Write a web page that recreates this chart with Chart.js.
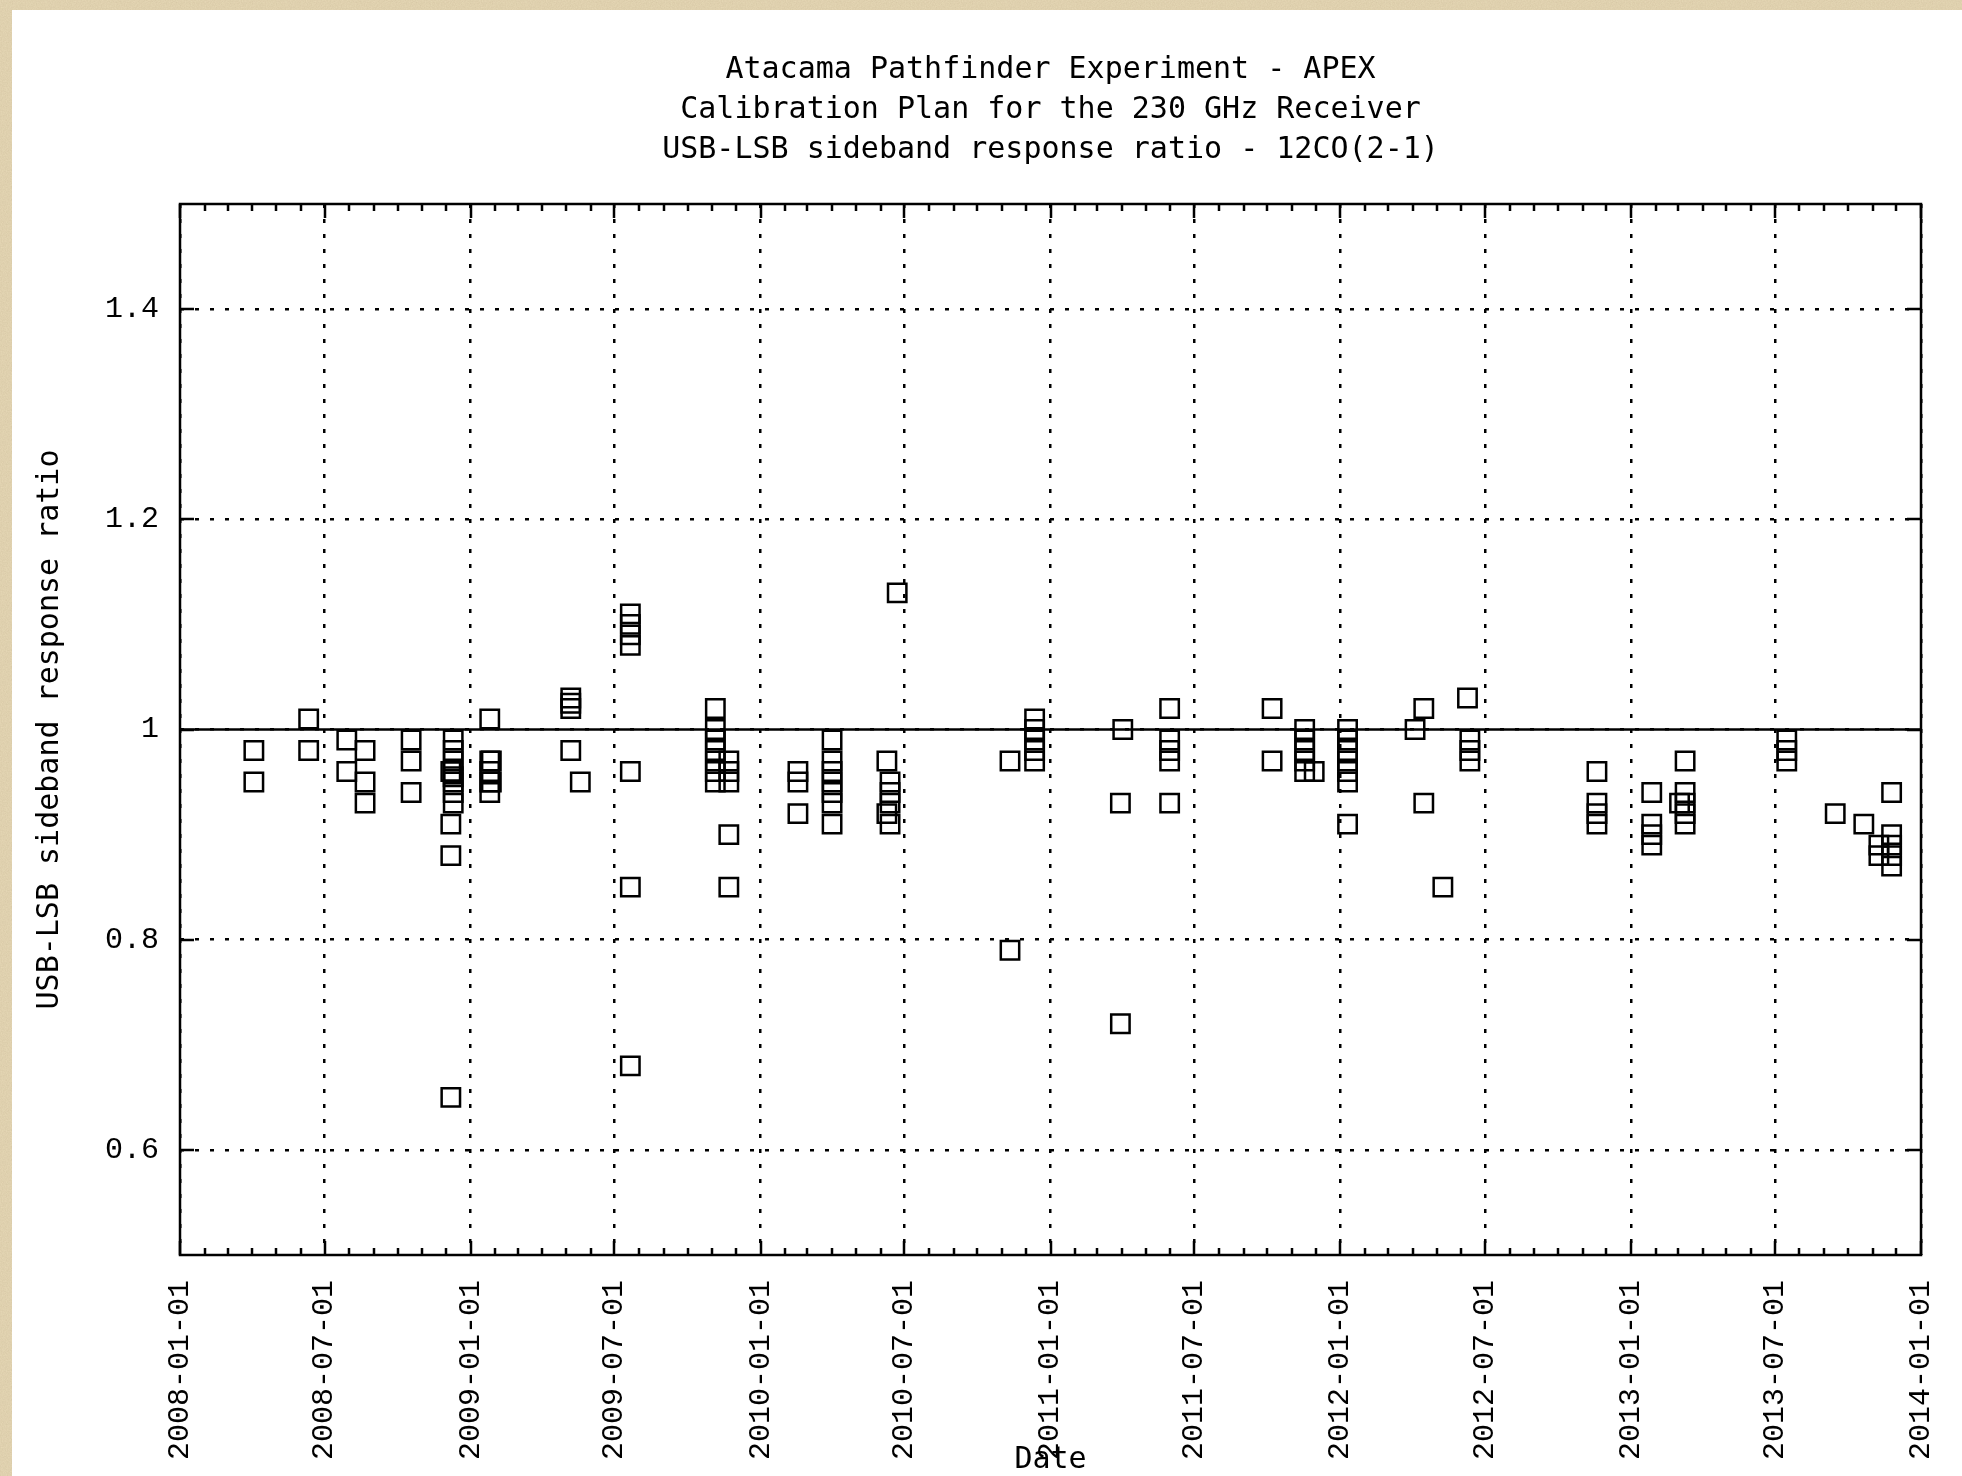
<!DOCTYPE html>
<html>
<head>
<meta charset="utf-8">
<title>APEX 230 GHz receiver – USB/LSB sideband response ratio</title>
<script src="https://cdn.jsdelivr.net/npm/chart.js@4/dist/chart.umd.min.js"></script>
<style>
  html, body { margin: 0; padding: 0; width: 1962px; height: 1476px; overflow: hidden; }
  body {
    position: relative;
    background-color: #e7d9b7;
    background-image: url("data:image/svg+xml;utf8,<svg xmlns='http://www.w3.org/2000/svg' width='240' height='240'><filter id='n'><feTurbulence type='fractalNoise' baseFrequency='0.8' numOctaves='3' stitchTiles='stitch'/><feColorMatrix values='0 0 0 0 0.55 0 0 0 0 0.45 0 0 0 0 0.28 0 0 0 0.45 0'/></filter><rect width='100%' height='100%' filter='url(%23n)'/></svg>");
  }
  #sheet { position: absolute; left: 12px; top: 10px; right: 0; bottom: 0; background: #ffffff; }
  #plot { position: absolute; left: 0; top: 0; }
</style>
</head>
<body>
<div id="sheet"></div>
<canvas id="plot" width="1962" height="1476"></canvas>
<script>
// Observation epochs and the USB/LSB response ratios measured on each of them
const epochDates = [
  '2008-04-03', '2008-06-11', '2008-07-29', '2008-08-21', '2008-10-18',
  '2008-12-07', '2008-12-10', '2009-01-25', '2009-01-27', '2009-05-07',
  '2009-05-19', '2009-07-21', '2009-11-05', '2009-11-22', '2010-02-17',
  '2010-04-01', '2010-06-09', '2010-06-13', '2010-06-22', '2010-11-11',
  '2010-12-12', '2011-03-30', '2011-04-02', '2011-05-31', '2011-10-07',
  '2011-11-17', '2011-11-29', '2012-01-10', '2012-04-04', '2012-04-15',
  '2012-05-09', '2012-06-09', '2012-06-12', '2012-11-19', '2013-01-27',
  '2013-03-03', '2013-03-10', '2013-07-16', '2013-09-15', '2013-10-21',
  '2013-11-09', '2013-11-25'
];
const epochRatios = [
  [0.98, 0.95], [1.01, 0.98], [0.99, 0.96], [0.98, 0.95, 0.93], [0.99, 0.97, 0.94],
  [0.96, 0.91, 0.88, 0.65], [0.99, 0.98, 0.97, 0.96, 0.955, 0.95, 0.94, 0.93],
  [1.01, 0.97, 0.96, 0.95, 0.94], [0.97, 0.95], [1.03, 1.025, 1.02, 0.98],
  [0.95], [1.11, 1.10, 1.09, 1.08, 0.96, 0.85, 0.68],
  [1.02, 1.00, 0.99, 0.98, 0.97, 0.96, 0.95], [0.97, 0.96, 0.95, 0.90, 0.85],
  [0.96, 0.95, 0.92],
  [0.99, 0.97, 0.96, 0.95, 0.94, 0.93, 0.91], [0.97, 0.92], [0.95, 0.94, 0.93, 0.91],
  [1.13], [0.97, 0.79],
  [1.01, 1.00, 0.99, 0.98, 0.97], [0.93, 0.72], [1.00], [1.02, 0.99, 0.98, 0.97, 0.93],
  [1.02, 0.97],
  [1.00, 0.99, 0.98, 0.97, 0.96], [0.96], [1.00, 0.99, 0.98, 0.97, 0.96, 0.95, 0.91],
  [1.00], [1.02, 0.93],
  [0.85], [1.03], [0.99, 0.98, 0.97], [0.96, 0.93, 0.92, 0.91], [0.94, 0.91, 0.90, 0.89],
  [0.93], [0.97, 0.94, 0.93, 0.92, 0.91], [0.99, 0.98, 0.97], [0.92], [0.91],
  [0.89, 0.88], [0.94, 0.90, 0.89, 0.88, 0.87]
];

// Axis ticks
const xTickLabels = [
  '2008-01-01', '2008-07-01', '2009-01-01', '2009-07-01', '2010-01-01', '2010-07-01',
  '2011-01-01', '2011-07-01', '2012-01-01', '2012-07-01', '2013-01-01', '2013-07-01',
  '2014-01-01'
];
const yTickValues = [0.6, 0.8, 1, 1.2, 1.4];
const yRange = [0.5, 1.5];
const referenceRatio = 1;

const titleLines = [
  'Atacama Pathfinder Experiment - APEX',
  'Calibration Plan for the 230 GHz Receiver',
  'USB-LSB sideband response ratio - 12CO(2-1)'
];
const yAxisTitle = 'USB-LSB sideband response ratio';
const xAxisTitle = 'Date';

const toMs = s => Date.parse(s + 'T00:00:00Z');
const fmtDate = v => new Date(v).toISOString().slice(0, 10);

const xMin = toMs(xTickLabels[0]);
const xMax = toMs(xTickLabels[xTickLabels.length - 1]);

const points = [];
epochDates.forEach((d, i) => {
  epochRatios[i].forEach(r => points.push({ x: toMs(d), y: r }));
});

const TITLE_FONT = 'DejaVu Sans Mono';
const TICK_FONT = 'Liberation Mono';
const INK = '#000';

// Frame, inward major/minor ticks, and title centred over the plot box
const gnuplotFrame = {
  id: 'gnuplotFrame',
  afterLayout(chart) {
    const tb = chart.titleBlock;
    if (tb) {
      tb.left = chart.chartArea.left;
      tb.right = chart.chartArea.right;
      tb.width = tb.right - tb.left;
    }
  },
  beforeDatasetsDraw(chart) {
    const { ctx, chartArea: a, scales: { x, y } } = chart;
    const major = 14, minor = 7;
    ctx.save();
    ctx.strokeStyle = INK;
    ctx.lineWidth = 2.5;
    ctx.beginPath();
    x.ticks.forEach(t => {
      const px = Math.round(x.getPixelForValue(t.value));
      ctx.moveTo(px, a.bottom); ctx.lineTo(px, a.bottom - major);
      ctx.moveTo(px, a.top); ctx.lineTo(px, a.top + major);
    });
    const y0 = new Date(xMin).getUTCFullYear();
    const y1 = new Date(xMax).getUTCFullYear();
    for (let yr = y0; yr < y1; yr++) {
      for (let m = 0; m < 12; m++) {
        if (m === 0 || m === 6) continue;
        const px = Math.round(x.getPixelForValue(Date.UTC(yr, m, 1)));
        ctx.moveTo(px, a.bottom); ctx.lineTo(px, a.bottom - minor);
        ctx.moveTo(px, a.top); ctx.lineTo(px, a.top + minor);
      }
    }
    y.ticks.forEach(t => {
      const py = Math.round(y.getPixelForValue(t.value));
      ctx.moveTo(a.left, py); ctx.lineTo(a.left + major, py);
      ctx.moveTo(a.right, py); ctx.lineTo(a.right - major, py);
    });
    ctx.stroke();
    ctx.strokeRect(a.left, a.top, a.right - a.left, a.bottom - a.top);
    ctx.restore();
  }
};

new Chart(document.getElementById('plot'), {
  data: {
    datasets: [
      {
        type: 'scatter',
        label: 'USB/LSB ratio',
        data: points,
        pointStyle: 'rect',
        pointRadius: 13,
        pointHoverRadius: 13,
        pointBorderWidth: 2.5,
        pointBorderColor: INK,
        pointBackgroundColor: 'rgba(0,0,0,0)'
      },
      {
        type: 'line',
        label: 'ratio = 1',
        data: [{ x: xMin, y: referenceRatio }, { x: xMax, y: referenceRatio }],
        borderColor: INK,
        borderWidth: 2.5,
        pointRadius: 0,
        fill: false
      }
    ]
  },
  options: {
    responsive: false,
    animation: false,
    devicePixelRatio: 1,
    layout: { padding: { left: 0, right: 41, top: 0, bottom: 0 } },
    plugins: {
      legend: { display: false },
      tooltip: { enabled: false },
      title: {
        display: true,
        text: titleLines,
        color: INK,
        font: { family: TITLE_FONT, size: 30, weight: 'normal', lineHeight: 40 / 30 },
        padding: { top: 50, bottom: 34 }
      }
    },
    scales: {
      x: {
        type: 'linear',
        position: 'bottom',
        min: xMin,
        max: xMax,
        afterFit(scale) {
          scale.height = 221;
          scale.paddingLeft = 0;
          scale.paddingRight = 0;
        },
        afterBuildTicks(scale) {
          scale.ticks = xTickLabels.map(s => ({ value: toMs(s) }));
        },
        ticks: {
          autoSkip: false,
          minRotation: 90,
          maxRotation: 90,
          padding: 25,
          color: INK,
          font: { family: TICK_FONT, size: 30 },
          callback: v => fmtDate(v)
        },
        grid: { color: INK, lineWidth: 2.5, drawTicks: false },
        border: { display: false, dash: [4, 11] },
        title: {
          display: true,
          text: xAxisTitle,
          color: INK,
          font: { family: TITLE_FONT, size: 30, lineHeight: 1 },
          padding: { top: 0, bottom: 1 }
        }
      },
      y: {
        type: 'linear',
        position: 'left',
        min: yRange[0],
        max: yRange[1],
        afterFit(scale) {
          scale.width = 180;
          scale.paddingTop = 0;
          scale.paddingBottom = 0;
        },
        afterBuildTicks(scale) {
          scale.ticks = yTickValues.map(v => ({ value: v }));
        },
        ticks: {
          padding: 21,
          color: INK,
          font: { family: TICK_FONT, size: 30 },
          callback: v => String(v)
        },
        grid: { color: INK, lineWidth: 2.5, drawTicks: false },
        border: { display: false, dash: [4, 11] },
        title: {
          display: true,
          text: yAxisTitle,
          color: INK,
          font: { family: TITLE_FONT, size: 30, lineHeight: 1 },
          padding: { top: 35, bottom: 0 }
        }
      }
    }
  },
  plugins: [gnuplotFrame]
});
</script>
</body>
</html>
